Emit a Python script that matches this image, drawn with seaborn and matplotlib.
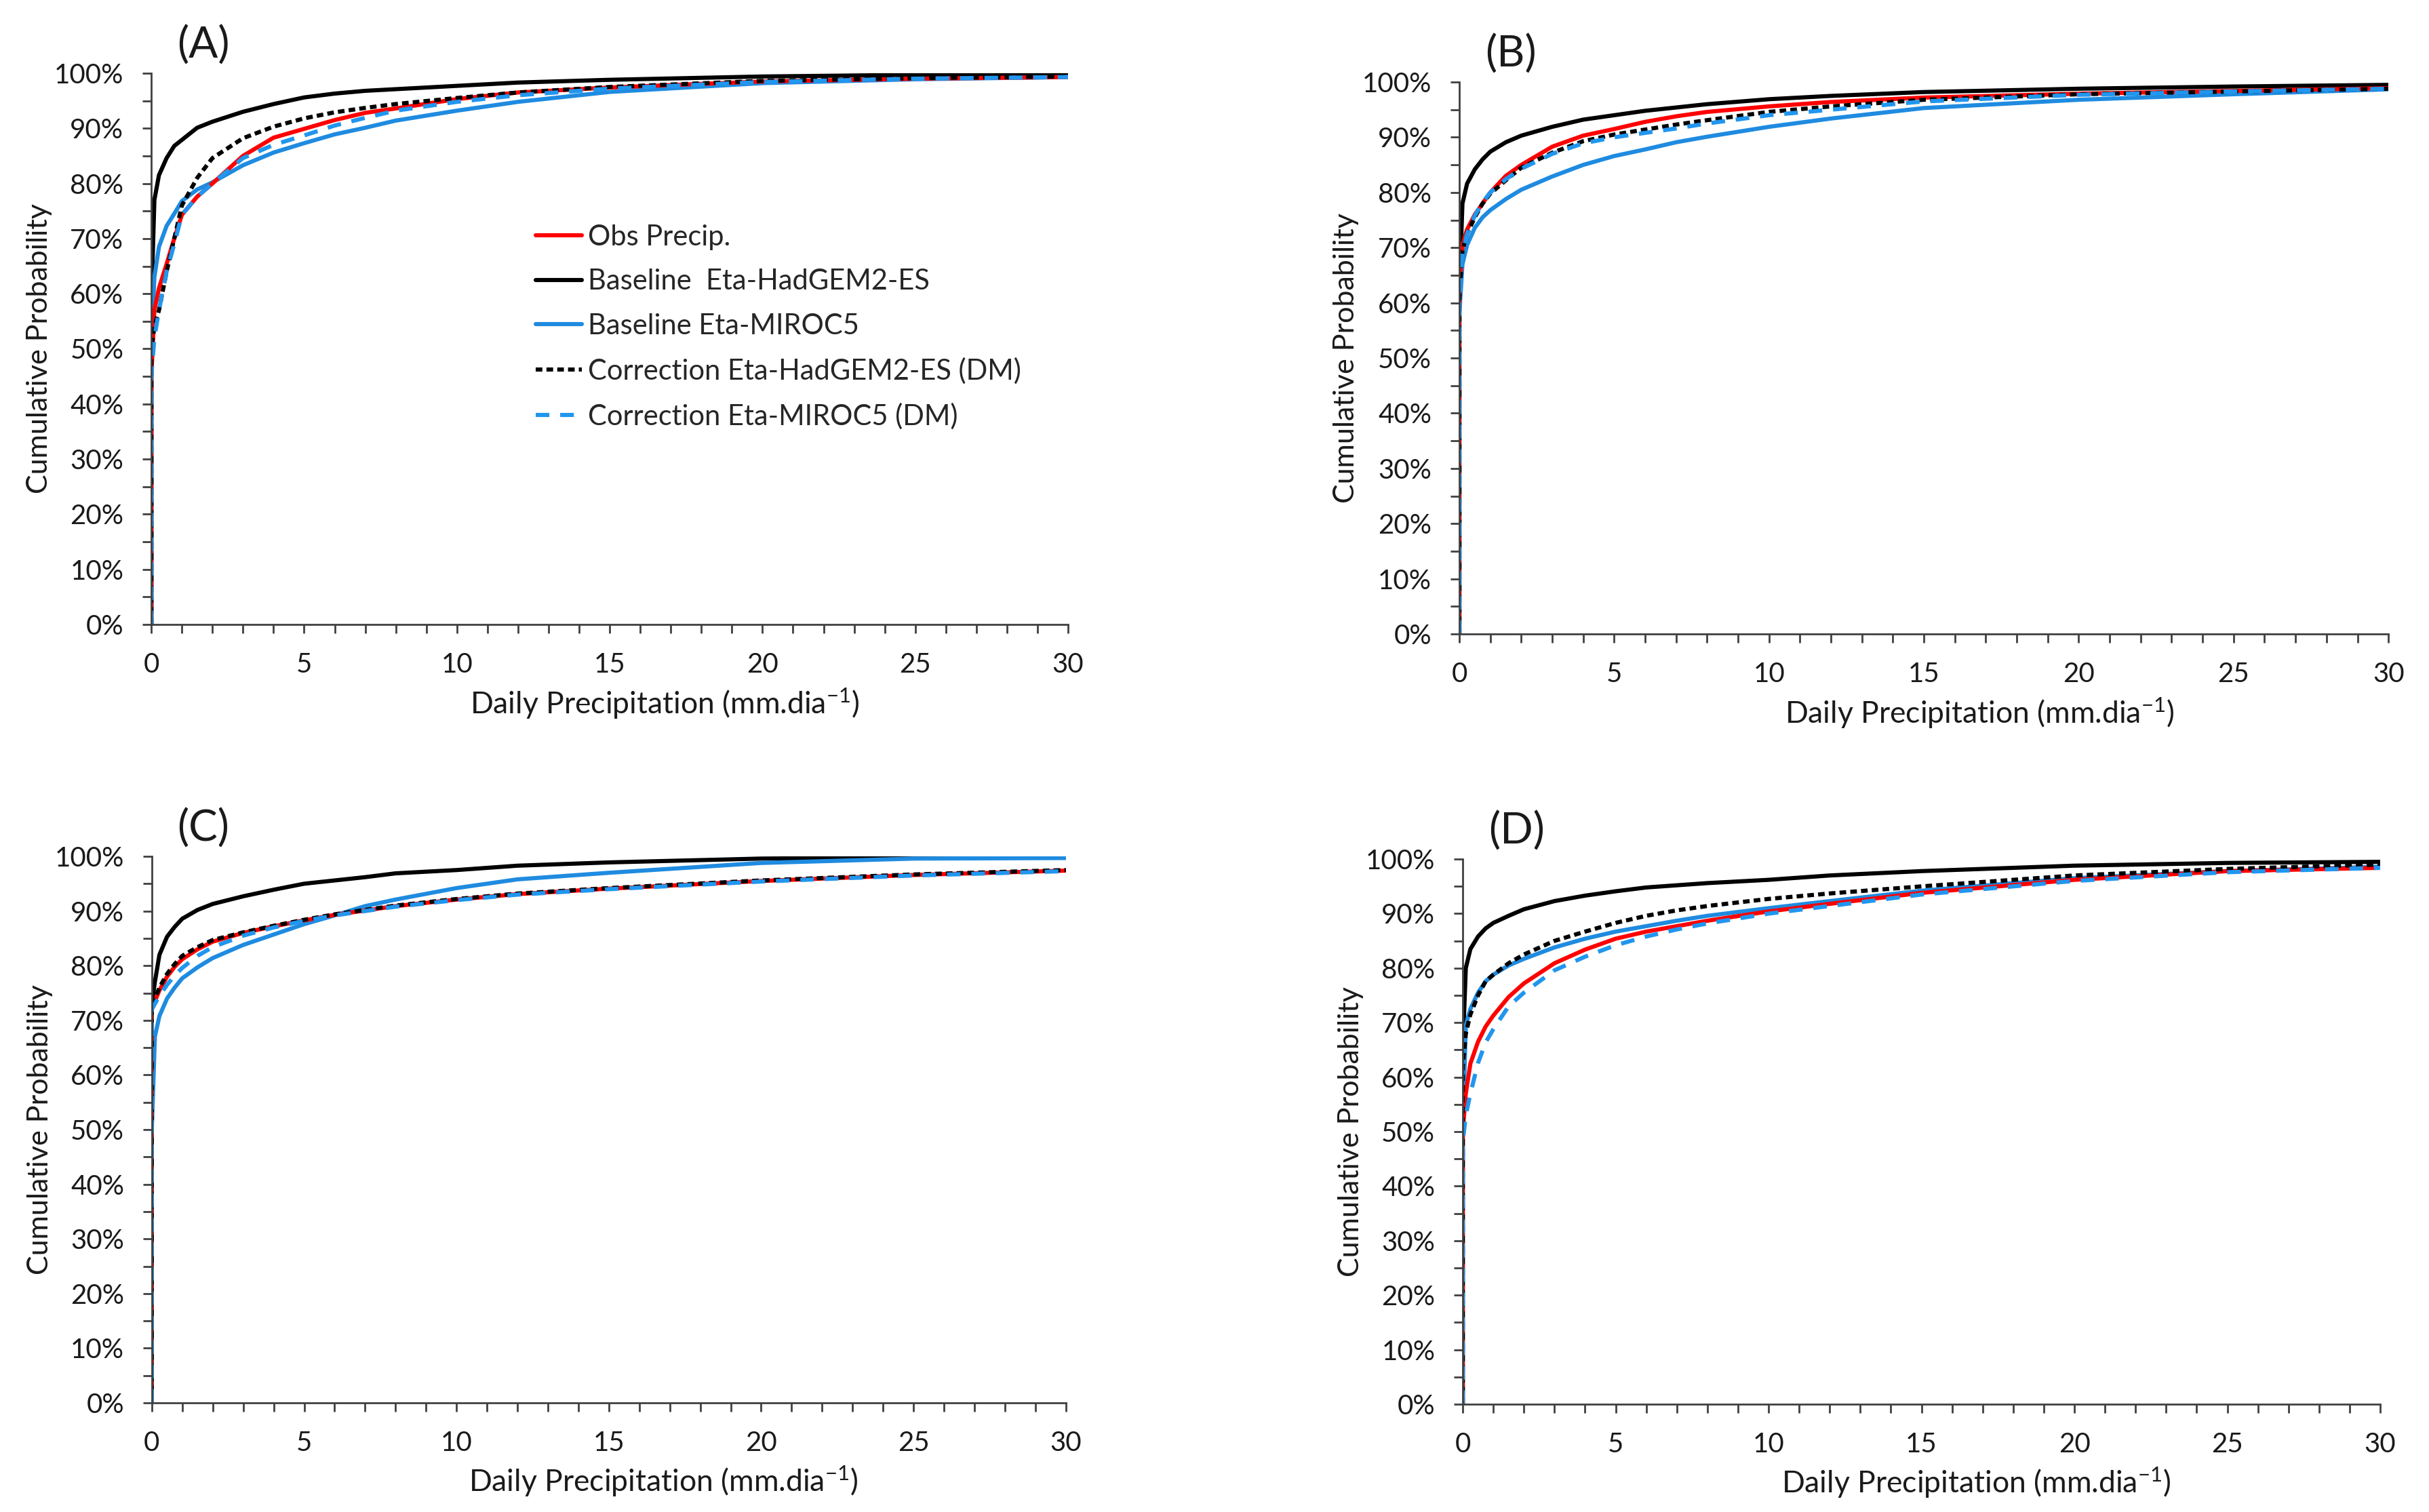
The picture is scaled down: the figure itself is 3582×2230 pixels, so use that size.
import pandas as pd
import matplotlib
matplotlib.use('Agg')
import matplotlib.pyplot as plt
from matplotlib.lines import Line2D
from matplotlib.ticker import MultipleLocator, PercentFormatter
import seaborn as sns

# precipitação diária (mm/dia) onde as curvas foram lidas
precip = [0, 0, 0.1, 0.25, 0.5, 0.75, 1, 1.5, 2, 3, 4, 5, 6, 7, 8, 10, 12, 15, 20, 25, 30]

# (A)
a_obs = [0, 45, 57, 61, 65.4, 70, 74.3, 77.6, 80, 85, 88.3, 89.9, 91.5, 92.8, 93.6, 95.3, 96.5, 97.4, 98.5, 99.0, 99.3]
a_had = [0, 58, 77, 81.5, 84.6, 86.8, 87.9, 90.1, 91.2, 93.0, 94.4, 95.6, 96.3, 96.8, 97.1, 97.7, 98.3, 98.8, 99.4, 99.7, 99.8]
a_miroc = [0, 50, 63, 68.5, 72.3, 74.5, 76.8, 78.9, 80.2, 83.3, 85.6, 87.3, 88.9, 90.1, 91.4, 93.2, 94.8, 96.6, 98.2, 98.9, 99.3]
a_had_dm = [0, 50, 54, 57, 64, 70, 76, 81, 84.6, 88.2, 90.3, 91.8, 92.9, 93.7, 94.4, 95.5, 96.5, 97.5, 98.6, 99.1, 99.4]
a_miroc_dm = [0, 45, 52, 57, 64, 69, 74.3, 77.6, 80, 84.6, 87, 88.7, 90.5, 91.9, 93.2, 94.8, 96, 97.2, 98.4, 99.0, 99.3]

# (B)
b_obs = [0, 62, 70.5, 73.3, 76, 78, 80, 83, 85, 88.3, 90.3, 91.5, 92.8, 93.8, 94.6, 95.6, 96.4, 97.2, 97.9, 98.4, 98.9]
b_had = [0, 62, 78, 81.6, 84.2, 86, 87.4, 89.1, 90.3, 91.9, 93.2, 94.0, 94.8, 95.4, 96.0, 96.9, 97.5, 98.2, 98.8, 99.2, 99.5]
b_miroc = [0, 58, 67, 70.5, 73.6, 75.5, 76.8, 78.8, 80.5, 82.9, 85, 86.6, 87.8, 89.1, 90.1, 91.9, 93.4, 95.3, 96.8, 97.8, 98.7]
b_had_dm = [0, 61, 69.5, 72.5, 75.5, 78, 79.8, 82.2, 84.5, 87.2, 89.3, 90.5, 91.4, 92.3, 93.1, 94.6, 95.6, 96.8, 97.8, 98.3, 98.8]
b_miroc_dm = [0, 60, 69, 72.5, 75.8, 78.2, 80, 82.4, 84.3, 87, 88.9, 90, 90.8, 91.6, 92.5, 94, 95, 96.5, 97.7, 98.3, 98.8]

# (C)
c_obs = [0, 72, 73.5, 75.5, 78, 79.8, 81.2, 83, 84.4, 86, 87.2, 88.3, 89.3, 90.1, 90.9, 92.1, 93.1, 94.1, 95.5, 96.6, 97.4]
c_had = [0, 73, 77, 82, 85.3, 87.1, 88.6, 90.2, 91.3, 92.7, 93.9, 95, 95.6, 96.2, 96.9, 97.5, 98.3, 98.9, 99.6, 99.8, 99.8]
c_miroc = [0, 50, 67, 70.8, 74, 76, 77.7, 79.7, 81.4, 83.8, 85.7, 87.6, 89.2, 90.9, 92.1, 94.2, 95.8, 97, 98.8, 99.6, 99.7]
c_had_dm = [0, 73, 74, 76, 78.5, 80.3, 81.8, 83.4, 84.7, 86.1, 87.3, 88.4, 89.4, 90.2, 91, 92.2, 93.2, 94.2, 95.6, 96.7, 97.5]
c_miroc_dm = [0, 72, 73, 74.5, 76.5, 78.2, 79.6, 81.8, 83.4, 85.5, 87, 88.2, 89.2, 90.0, 90.8, 92, 93, 94, 95.4, 96.5, 97.3]

# (D)
d_obs = [0, 50, 57, 62.5, 66.5, 69.3, 71.3, 74.7, 77.2, 80.9, 83.4, 85.4, 86.7, 87.7, 88.7, 90.4, 91.8, 93.8, 96.2, 97.8, 98.4]
d_had = [0, 65, 80, 83.5, 85.8, 87.3, 88.3, 89.6, 90.8, 92.3, 93.3, 94.1, 94.8, 95.2, 95.6, 96.2, 97.0, 97.8, 98.8, 99.3, 99.5]
d_miroc = [0, 50, 69.5, 72.5, 75.5, 77.6, 78.8, 80.5, 81.7, 83.8, 85.4, 86.7, 87.7, 88.7, 89.6, 91.0, 92.3, 94.2, 96.5, 97.8, 98.6]
d_had_dm = [0, 62, 68, 71.5, 75, 77.6, 78.8, 80.9, 82.5, 85, 86.7, 88.3, 89.6, 90.6, 91.4, 92.7, 93.7, 95.0, 97.0, 98.2, 99.0]
d_miroc_dm = [0, 48, 53, 57, 62.6, 66.4, 68.8, 73, 75.5, 79.6, 82.1, 84.2, 85.8, 87.1, 88.2, 90.0, 91.4, 93.5, 96.0, 97.6, 98.4]

series_names = ['Obs Precip.', 'Baseline  Eta-HadGEM2-ES', 'Baseline Eta-MIROC5',
                'Correction Eta-HadGEM2-ES (DM)', 'Correction Eta-MIROC5 (DM)']
panel_labels = ['(A)', '(B)', '(C)', '(D)']

panels = [
    [a_obs, a_had, a_miroc, a_had_dm, a_miroc_dm],
    [b_obs, b_had, b_miroc, b_had_dm, b_miroc_dm],
    [c_obs, c_had, c_miroc, c_had_dm, c_miroc_dm],
    [d_obs, d_had, d_miroc, d_had_dm, d_miroc_dm],
]

# cores e tracejados (estilo Excel)
colors = {
    series_names[0]: '#FF0000',
    series_names[1]: '#000000',
    series_names[2]: '#1F8BE0',
    series_names[3]: '#000000',
    series_names[4]: '#2196EE',
}
dashes = {
    series_names[0]: '',
    series_names[1]: '',
    series_names[2]: '',
    series_names[3]: (1.6, 1.0),
    series_names[4]: (3.3, 2.6),
}
# ordem de desenho: linhas tracejadas por cima
draw_order = [series_names[1], series_names[2], series_names[0], series_names[3], series_names[4]]

sns.set_theme(style='ticks')
plt.rcParams['font.family'] = ['Lato', 'DejaVu Sans']
plt.rcParams['mathtext.fontset'] = 'custom'
plt.rcParams['mathtext.rm'] = 'Lato'
plt.rcParams['mathtext.it'] = 'Lato:italic'

fig = plt.figure(figsize=(17.91, 11.15))

# posições dos eixos (fração da figura)
rects = [
    [0.0623, 0.5870, 0.3774, 0.3646],
    [0.6008, 0.5807, 0.3825, 0.3650],
    [0.0625, 0.0722, 0.3763, 0.3614],
    [0.6022, 0.0713, 0.3777, 0.3605],
]

LW = 2.2
axis_color = '#404040'
text_color = '#1a1a1a'

for rect, label, values in zip(rects, panel_labels, panels):
    ax = fig.add_axes(rect)

    rows = []
    for name, ys in zip(series_names, values):
        for x, y in zip(precip, ys):
            rows.append({'precip': x, 'prob': y, 'series': name})
    df = pd.DataFrame(rows)

    sns.lineplot(data=df, x='precip', y='prob', hue='series', style='series',
                 hue_order=draw_order, style_order=draw_order,
                 palette=colors, dashes=dashes, estimator=None, sort=False,
                 legend=False, lw=LW, ax=ax)

    ax.set_xlim(0, 30)
    ax.set_ylim(0, 100)
    ax.xaxis.set_major_locator(MultipleLocator(5))
    ax.xaxis.set_minor_locator(MultipleLocator(1))
    ax.yaxis.set_major_locator(MultipleLocator(10))
    ax.yaxis.set_minor_locator(MultipleLocator(5))
    ax.yaxis.set_major_formatter(PercentFormatter(100, decimals=0))

    ax.tick_params(axis='both', which='both', direction='out', length=4.7,
                   width=1.0, color=axis_color, labelsize=14.5, pad=10,
                   labelcolor=text_color)
    for side in ['top', 'right']:
        ax.spines[side].set_visible(False)
    for side in ['left', 'bottom']:
        ax.spines[side].set_color(axis_color)
        ax.spines[side].set_linewidth(1.0)

    ax.set_xlabel(r'Daily Precipitation (mm.dia$^{\mathregular{-1}}$)', fontsize=16, color=text_color)
    ax.set_ylabel('Cumulative Probability', fontsize=15.5, color=text_color)
    ax.xaxis.set_label_coords(0.56, -0.112)
    ax.yaxis.set_label_coords(-0.108, 0.5)

    ax.text(0.028, 1.014, label, transform=ax.transAxes, ha='left', va='bottom',
            fontsize=23, color=text_color)

    if label == '(A)':
        handles = []
        for name in series_names:
            if dashes[name]:
                h = Line2D([], [], color=colors[name], lw=LW, dashes=dashes[name])
            else:
                h = Line2D([], [], color=colors[name], lw=LW)
            handles.append(h)
        ax.legend(handles, series_names, loc='upper left', bbox_to_anchor=(0.419, 0.726),
                  frameon=False, fontsize=15, handlelength=1.65, handletextpad=0.2,
                  labelspacing=0.66, borderpad=0, borderaxespad=0)

fig.savefig('out.png', dpi=200, facecolor='white')
